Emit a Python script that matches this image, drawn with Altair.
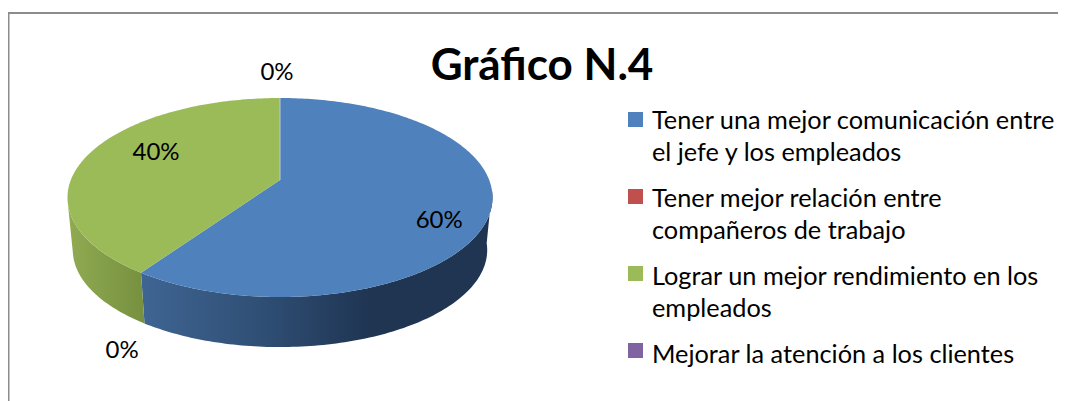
import math
import altair as alt
import pandas as pd

# ---- data ----
title_text = "Gráfico N.4"
categories = [
    "Tener una mejor comunicación entre\nel jefe y los empleados",
    "Tener mejor relación entre\ncompañeros de trabajo",
    "Lograr un mejor rendimiento en los\nempleados",
    "Mejorar la atención a los clientes",
]
shares = [60, 0, 40, 0]
colors = ["#4f81bd", "#c0504d", "#9bbb59", "#8064a2"]

# ---- layout (page pixels) ----
W, H = 1050, 393
CX, CY = 280, 180      # pie apex
A, B, K = 209.2, 96.4, 0.176  # radii, perspective
WARP = 4               # small angular correction of the 3-D view
S, CY2 = 0.975, 233    # base ellipse scale and apex
RIGHT_SIL, LEFT_SIL = 100, 260
label_r = [0.80, 1.284, 0.623, 1.284]
label_dx = [0, 0, 0, -3]
label_dy = [17, 71, -8.4, 17]
FONT = "Lato"


def proj(theta, scale=1.0, cy=CY):
    t = math.radians(theta - WARP * math.sin(math.radians(theta)) ** 2)
    u, v = math.sin(t), -math.cos(t)
    d = 1 - K * v
    return CX + scale * A * u / d, cy + scale * B * v / d


def arc(a0, a1):
    n = max(1, int(abs(a1 - a0)))
    return [a0 + (a1 - a0) * i / n for i in range(n + 1)]


starts, cum = [], 0
for s in shares:
    starts.append(cum * 3.6)
    cum += s

top_rows = []
label_rows = []
for c, s, a0, lr, dx, dy in zip(categories, shares, starts, label_r, label_dx, label_dy):
    a1 = a0 + s * 3.6
    if s > 0:
        pts = [(CX, CY)] + [proj(t) for t in arc(a0, a1)]
        for i, (x, y) in enumerate(pts):
            top_rows.append({"cat": c, "i": i, "x": x, "y": y})
    t = math.radians((a0 + a1) / 2)
    u, v = lr * math.sin(t), -lr * math.cos(t)
    label_rows.append({"x": CX + A * u + dx, "y": CY + B * v + dy, "t": f"{s}%"})


def wall_rows(a0, a1):
    rows = [proj(t) for t in arc(a0, a1)] + [proj(t, scale=S, cy=CY2) for t in arc(a1, a0)]
    return pd.DataFrame([{"i": i, "x": x, "y": y} for i, (x, y) in enumerate(rows)])


blue_end = starts[0] + shares[0] * 3.6
blue_wall = wall_rows(RIGHT_SIL, blue_end)
green_wall = wall_rows(starts[2], LEFT_SIL)

x_scale = alt.Scale(domain=[8, 8 + W], range=[0, W], nice=False, zero=False)
y_scale = alt.Scale(domain=[8, 8 + H], range=[0, H], nice=False, zero=False)
X = alt.X("x:Q", scale=x_scale, axis=None)
Y = alt.Y("y:Q", scale=y_scale, axis=None)
fill_scale = alt.Scale(domain=categories, range=colors)


def wall(df, stops):
    grad = alt.LinearGradient(gradient="linear",
                              stops=[alt.GradientStop(offset=o, color=c) for o, c in stops],
                              x1=0, x2=1, y1=0, y2=0)
    return alt.Chart(df).mark_line(fill=grad, strokeWidth=0, interpolate="linear").encode(
        x=X, y=Y, order="i:Q")


blue_layer = wall(blue_wall, [(0, "#3f6593"), (0.35, "#2f4e74"), (0.65, "#1f3552"), (1, "#1f3552")])
green_layer = wall(green_wall, [(0, "#90ab52"), (1, "#76903f")])

top_layer = alt.Chart(pd.DataFrame(top_rows)).mark_line(strokeWidth=0, interpolate="linear").encode(
    x=X, y=Y, order="i:Q",
    fill=alt.Fill("cat:N", scale=fill_scale, legend=None),
)

top_px, top_py = proj(0)
seam = alt.Chart(pd.DataFrame({"x": [top_px, CX], "y": [top_py, CY], "i": [0, 1]})).mark_line(
    color="#b9cbd6", strokeWidth=1
).encode(x=X, y=Y, order="i:Q")

labels = alt.Chart(pd.DataFrame(label_rows)).mark_text(
    font=FONT, fontSize=24, color="#000000", align="center", baseline="middle"
).encode(x=X, y=Y, text="t:N")

legend_df = pd.DataFrame({
    "cat": categories,
    "sx": [635.5] * 4,
    "sy": [119.5 + 77 * i for i in range(4)],
    "tx": [652] * 4,
    "ty": [128.8 + 78 * i for i in range(4)],
})
legend_sq = alt.Chart(legend_df).mark_square(size=225, opacity=1, strokeWidth=0).encode(
    x=alt.X("sx:Q", scale=x_scale, axis=None),
    y=alt.Y("sy:Q", scale=y_scale, axis=None),
    fill=alt.Fill("cat:N", scale=fill_scale, legend=None),
)
legend_tx = alt.Chart(legend_df).mark_text(
    font=FONT, fontSize=25.3, color="#000000", align="left", baseline="alphabetic",
    lineBreak="\n", lineHeight=32.5,
).encode(
    x=alt.X("tx:Q", scale=x_scale, axis=None),
    y=alt.Y("ty:Q", scale=y_scale, axis=None),
    text="cat:N",
)

one = pd.DataFrame({"a": [0]})
border_top = alt.Chart(one).mark_rule(color="#8c8c8c", strokeWidth=2).encode(
    x=alt.value(0), x2=alt.value(W), y=alt.value(5))
border_left = alt.Chart(one).mark_rule(color="#8c8c8c", strokeWidth=2).encode(
    x=alt.value(0.5), y=alt.value(4), y2=alt.value(H))

chart = alt.layer(
    border_top, border_left, blue_layer, green_layer, top_layer, seam, labels, legend_sq, legend_tx
).properties(
    width=W, height=H, padding=0, autosize="none", background="#ffffff",
    title=alt.TitleParams(title_text, anchor="start", align="center", orient="top", dx=535, offset=-116,
                          baseline="alphabetic", font=FONT, fontSize=44, fontWeight="bold", color="#000000"),
).configure_view(stroke=None)

chart.save("out.html", embed_options={"renderer": "svg", "actions": False})
